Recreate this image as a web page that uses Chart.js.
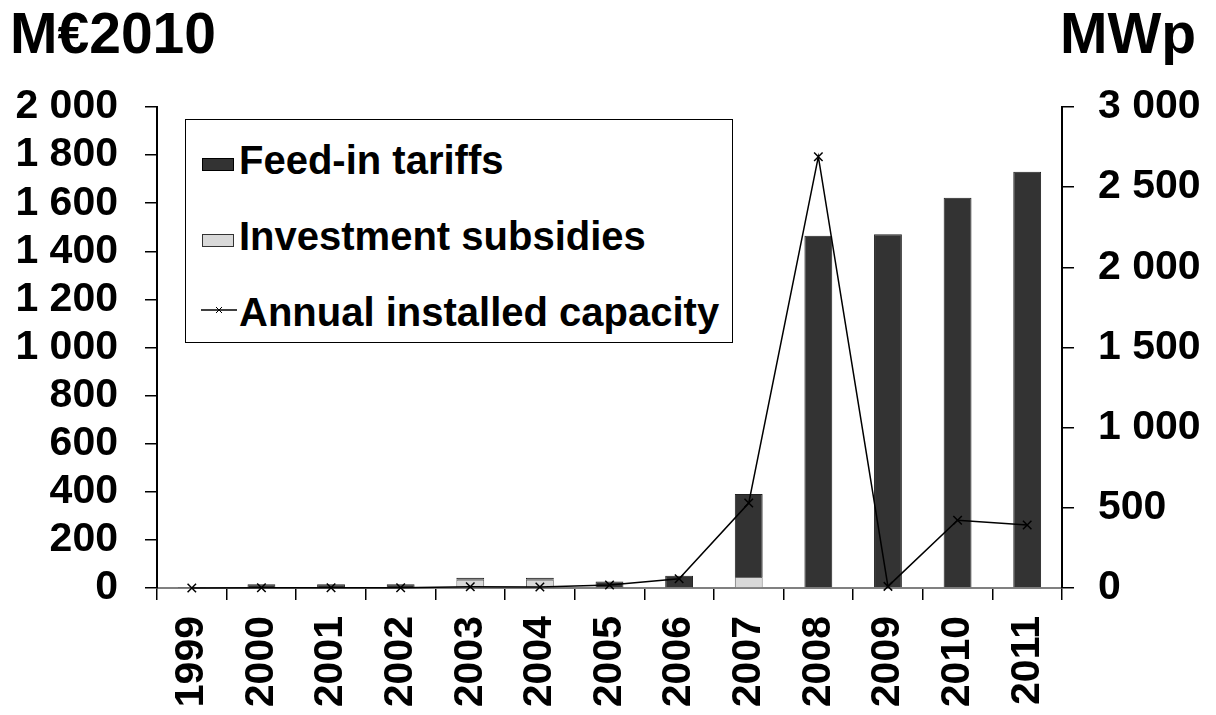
<!DOCTYPE html>
<html>
<head>
<meta charset="utf-8">
<title>Feed-in tariffs and investment subsidies</title>
<script src="https://cdn.jsdelivr.net/npm/chart.js@4.4.1/dist/chart.umd.min.js"></script>
<style>
  html, body { margin: 0; padding: 0; background: #fff; }
  #wrap { position: relative; width: 1216px; height: 715px; font-family: "Liberation Sans", Arial, sans-serif; font-weight: bold; color: #000; }
  #chart { position: absolute; left: 0; top: 0; }
  .unit { position: absolute; top: 5px; font-size: 57px; line-height: 57px; white-space: nowrap; }
  #legend { position: absolute; left: 185px; top: 119px; width: 548px; height: 224px; border: 1.5px solid #000; box-sizing: border-box; background: #fff; }
  .lg-text { position: absolute; left: 53px; font-size: 40px; line-height: 40px; white-space: nowrap; }
  .lg-box { position: absolute; left: 16px; width: 32px; height: 13px; box-sizing: border-box; }
</style>
</head>
<body>
<div id="wrap">
  <canvas id="chart" width="1216" height="715"></canvas>
  <div class="unit" style="left:10px">M€2010</div>
  <div class="unit" style="left:1060px">MWp</div>
  <div id="legend"></div>
</div>
<script>
// data
const years = ["1999", "2000", "2001", "2002", "2003", "2004", "2005", "2006", "2007", "2008", "2009", "2010", "2011"];
const feedInTariffs = [1, 14, 14, 14, 9, 9, 25, 49, 345, 1465, 1471, 1623, 1731];      // M€2010
const investmentSubsidies = [0, 2, 2, 2, 34, 34, 2, 2, 46, 0, 0, 0, 0];                 // M€2010
const installedCapacity = [0, 2, 2, 2, 8, 6, 19, 58, 530, 2690, 10, 423, 393];           // MWp

const DARK = "#333333";
const LIGHT = "#d9d9d9";
const FONT = "'Liberation Sans', Arial, sans-serif";

// "2 000" style thousands
function spaced(v) {
  return String(v).replace(/\B(?=(\d{3})+(?!\d))/g, " ");
}

// legend box (html, sits inside the plot like the original)
const legendItems = [
  { label: "Feed-in tariffs", kind: "box", fill: DARK, border: "#000" },
  { label: "Investment subsidies", kind: "box", fill: LIGHT, border: "#333" },
  { label: "Annual installed capacity", kind: "line" }
];
const legendEl = document.getElementById("legend");
legendItems.forEach((item, i) => {
  const rowTop = 20 + i * 76; // relative to legend box
  if (item.kind === "box") {
    const b = document.createElement("div");
    b.className = "lg-box";
    b.style.top = (rowTop + 18) + "px";
    b.style.background = item.fill;
    b.style.border = "1px solid " + item.border;
    legendEl.appendChild(b);
  } else {
    const s = document.createElementNS("http://www.w3.org/2000/svg", "svg");
    s.setAttribute("width", "36");
    s.setAttribute("height", "12");
    s.style.position = "absolute";
    s.style.left = "15px";
    s.style.top = (rowTop + 12) + "px";
    s.innerHTML = '<line x1="0" y1="6" x2="36" y2="6" stroke="#000" stroke-width="1.3"/>' +
      '<line x1="15" y1="3" x2="21" y2="9" stroke="#000" stroke-width="1"/>' +
      '<line x1="21" y1="3" x2="15" y2="9" stroke="#000" stroke-width="1"/>';
    legendEl.appendChild(s);
  }
  const t = document.createElement("div");
  t.className = "lg-text";
  t.style.top = rowTop + "px";
  t.textContent = item.label;
  legendEl.appendChild(t);
});

const tickFont = { family: FONT, size: 41, weight: "bold" };

new Chart(document.getElementById("chart"), {
  type: "bar",
  data: {
    labels: years,
    datasets: [
      {
        type: "line",
        label: "Annual installed capacity",
        data: installedCapacity,
        yAxisID: "y1",
        borderColor: "#000",
        borderWidth: 1.5,
        pointStyle: "crossRot",
        pointRadius: 6,
        pointBorderWidth: 1.5,
        pointBorderColor: "#000",
        tension: 0,
        fill: false,
        clip: false,
        order: 0
      },
      {
        label: "Investment subsidies",
        data: investmentSubsidies,
        yAxisID: "y",
        backgroundColor: LIGHT,
        borderColor: "#666",
        borderWidth: 1,
        barPercentage: 0.4,
        categoryPercentage: 1,
        order: 1
      },
      {
        label: "Feed-in tariffs",
        data: feedInTariffs,
        yAxisID: "y",
        backgroundColor: DARK,
        borderColor: "#222",
        borderWidth: 1,
        barPercentage: 0.4,
        categoryPercentage: 1,
        order: 1
      }
    ]
  },
  options: {
    responsive: false,
    animation: false,
    devicePixelRatio: 1,
    layout: { padding: { top: 107, left: 0, right: 0, bottom: 0 } },
    plugins: {
      legend: { display: false },
      tooltip: { enabled: false },
      title: { display: false }
    },
    scales: {
      x: {
        stacked: true,
        afterFit: s => { s.height = 127; },
        border: { display: true, color: "#808080", width: 2 },
        grid: { display: true, offset: true, drawOnChartArea: false, drawTicks: true, tickLength: 12, color: "#000", lineWidth: 1.5 },
        ticks: { font: tickFont, color: "#000", minRotation: 90, maxRotation: 90, padding: 16, autoSkip: false }
      },
      y: {
        stacked: true,
        position: "left",
        min: 0,
        max: 2000,
        afterFit: s => { s.width = 157; },
        border: { display: true, color: "#000", width: 2 },
        grid: { drawOnChartArea: false, drawTicks: true, tickLength: 12, color: "#000", lineWidth: 1.5 },
        ticks: { stepSize: 200, autoSkip: false, font: tickFont, color: "#000", padding: 27, callback: v => spaced(v) }
      },
      y1: {
        position: "right",
        min: 0,
        max: 3000,
        afterFit: s => { s.width = 154; },
        border: { display: true, color: "#000", width: 2 },
        grid: { drawOnChartArea: false, drawTicks: true, tickLength: 12, color: "#000", lineWidth: 1.5 },
        ticks: { stepSize: 500, autoSkip: false, font: tickFont, color: "#000", padding: 24, callback: v => spaced(v) }
      }
    }
  }
});
</script>
</body>
</html>
